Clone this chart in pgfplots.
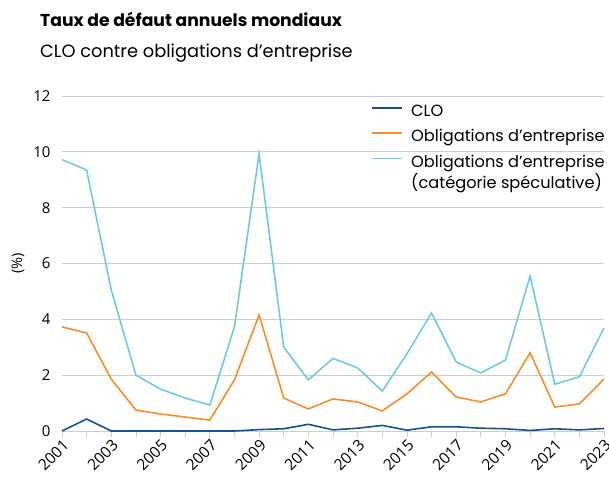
\documentclass[border=0pt]{standalone}
\usepackage{pgfplots}
\pgfplotsset{compat=1.18}
\usepackage{fontspec}
\setmainfont{Poppins}
\newfontfamily\tickfont{Open Sans}
\definecolor{cloblue}{RGB}{22,78,155}
\definecolor{corporange}{RGB}{247,140,40}
\definecolor{speccyan}{RGB}{110,200,230}
\definecolor{gridgray}{RGB}{205,205,205}
\begin{document}
\begin{tikzpicture}
\path[use as bounding box] (-62pt,-45pt) rectangle (547pt,431pt);
\begin{axis}[
  scale only axis,
  width=542pt, height=335pt,
  xmin=2001, xmax=2023, ymin=0, ymax=12,
  axis lines*=left,
  y axis line style={draw=none},
  ytick={0,2,4,6,8,10,12},
  ymajorgrids, major grid style={gridgray, line width=0.8pt},
  xtick={2001,2003,...,2023},
  minor xtick={2002,2004,...,2022},
  xticklabel style={rotate=45, anchor=north east, font=\tickfont\fontsize{15.5}{18}\selectfont, inner sep=1pt},
  yticklabel style={font=\tickfont\fontsize{15}{18}\selectfont, xshift=-2pt},
  x tick label style={/pgf/number format/1000 sep={}},
  /pgf/number format/assume math mode=true,
  x axis line style={gridgray, line width=0.8pt},
  tick align=outside,
  major tick length=6pt, minor tick length=6pt,
  xtick style={gridgray, line width=0.8pt},
  ytick style={draw=none},
  ylabel={(\%)},
  ylabel style={at={(axis description cs:-0.081,0.5)}, anchor=center, font=\tickfont\fontsize{14.5}{17}\selectfont},
  legend style={at={(axis description cs:0.565,0.985)}, anchor=north west, draw=none, fill=none,
    font=\fontsize{16.2}{20}\selectfont, row sep=7pt, cells={anchor=base west}},
  legend cell align=left,
  legend image code/.code={\draw[#1, line width=1.8pt] (0pt,0.33em) -- (30pt,0.33em);},
  clip=false,
]
\addplot[cloblue, line width=1.6pt] coordinates {
(2001,0) (2002,0.43) (2003,0) (2004,0) (2005,0) (2006,0) (2007,0) (2008,0)
(2009,0.05) (2010,0.08) (2011,0.24) (2012,0.04) (2013,0.10) (2014,0.20) (2015,0.03)
(2016,0.15) (2017,0.15) (2018,0.10) (2019,0.08) (2020,0.02) (2021,0.08) (2022,0.04) (2023,0.09)};
\addlegendentry{\hspace{6pt}CLO}
\addplot[corporange, line width=1.6pt] coordinates {
(2001,3.73) (2002,3.51) (2003,1.86) (2004,0.75) (2005,0.61) (2006,0.50) (2007,0.39) (2008,1.83)
(2009,4.16) (2010,1.18) (2011,0.79) (2012,1.15) (2013,1.04) (2014,0.72) (2015,1.33)
(2016,2.11) (2017,1.22) (2018,1.04) (2019,1.33) (2020,2.80) (2021,0.86) (2022,0.97) (2023,1.86)};
\addlegendentry{\hspace{6pt}Obligations d’entreprise}
\addplot[speccyan, line width=1.6pt] coordinates {
(2001,9.72) (2002,9.35) (2003,5.05) (2004,2.00) (2005,1.50) (2006,1.18) (2007,0.93) (2008,3.73)
(2009,9.93) (2010,3.00) (2011,1.83) (2012,2.60) (2013,2.26) (2014,1.43) (2015,2.76)
(2016,4.23) (2017,2.47) (2018,2.08) (2019,2.54) (2020,5.55) (2021,1.68) (2022,1.94) (2023,3.69)};
\addlegendentry{\hspace{6pt}\begin{tabular}[t]{@{}l@{}}Obligations d’entreprise\\[-1pt](catégorie spéculative)\end{tabular}}
\end{axis}
\node[anchor=base west, inner sep=0pt, font=\bfseries\fontsize{17.2}{20}\selectfont] at (-22pt,404pt) {Taux de défaut annuels mondiaux};
\node[anchor=base west, inner sep=0pt, font=\fontsize{17.8}{20}\selectfont] at (-22pt,373pt) {CLO contre obligations d’entreprise};
\end{tikzpicture}
\end{document}
